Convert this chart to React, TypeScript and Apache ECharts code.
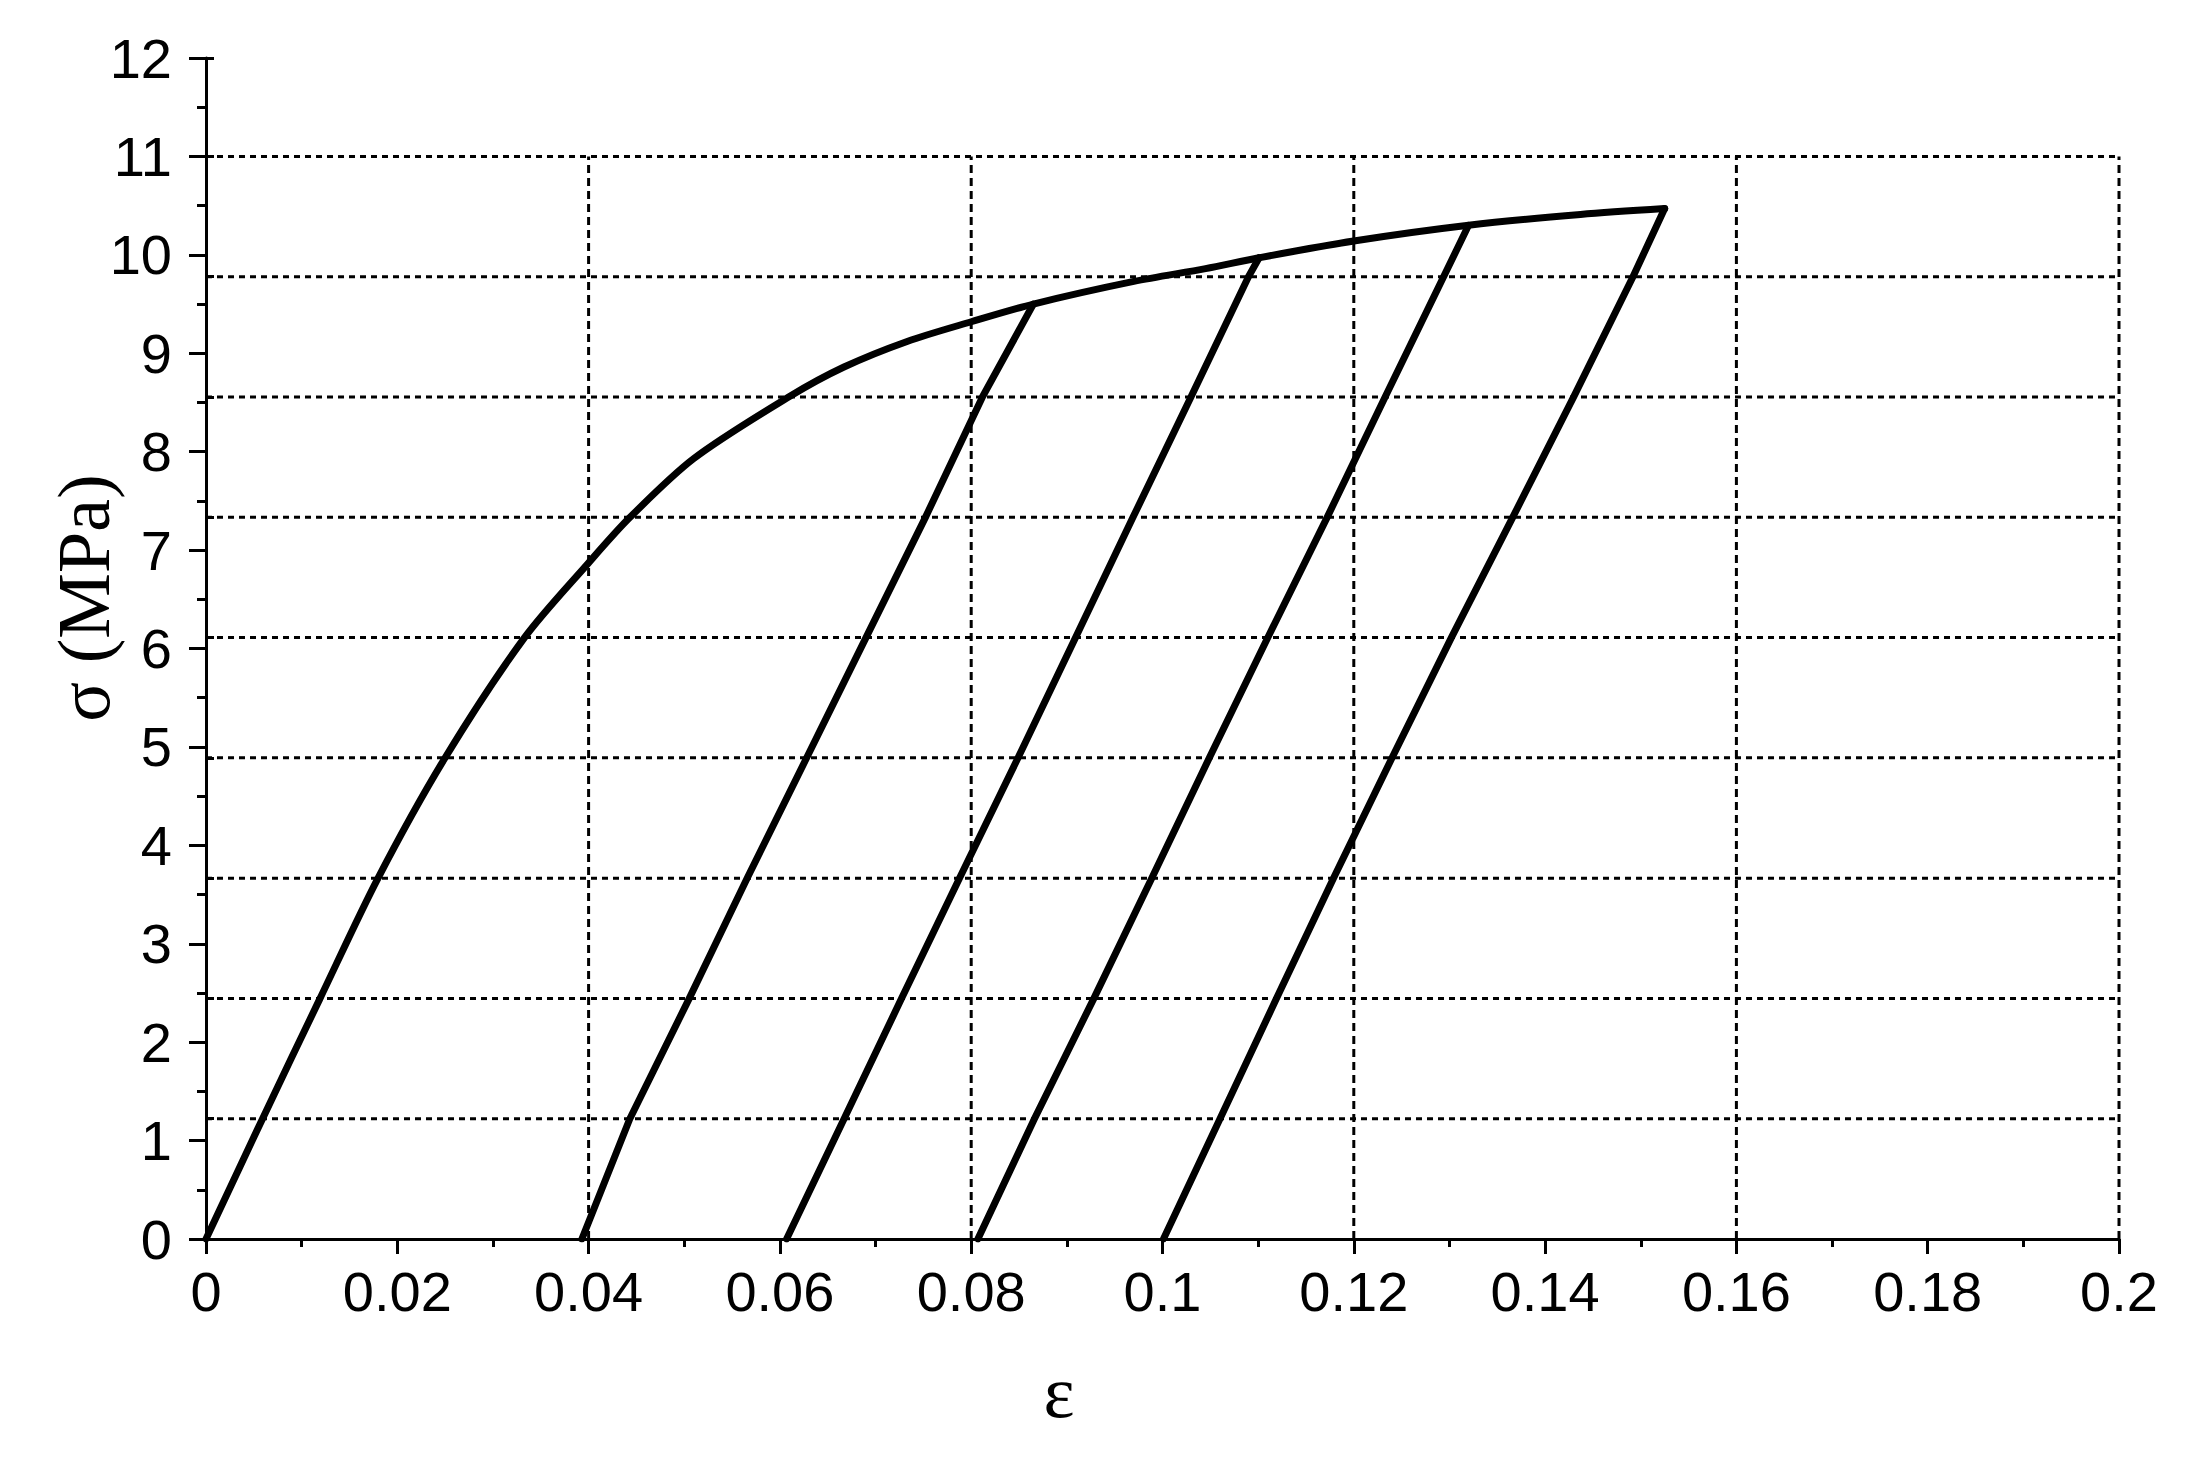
import React, { useEffect, useRef } from "react";
import * as echarts from "echarts";

// Loading curve (strain ε, stress σ in MPa)
const loadingCurve: [number, number][] = [
  [0, 0], [0.0059, 1.22], [0.0119, 2.44], [0.0180, 3.67], [0.0250, 4.89],
  [0.0333, 6.11], [0.0400, 6.87], [0.0443, 7.33], [0.0510, 7.93], [0.0610, 8.56],
  [0.0667, 8.86], [0.0733, 9.12], [0.0800, 9.32], [0.0865, 9.50], [0.0970, 9.73],
  [0.1045, 9.86], [0.1101, 9.97], [0.1200, 10.14], [0.1320, 10.30], [0.1437, 10.41],
  [0.1525, 10.47],
];

// Unloading / reloading lines
const cycle1: [number, number][] = [
  [0.0393, 0], [0.0443, 1.22], [0.0505, 2.44], [0.0566, 3.67], [0.0628, 4.89],
  [0.0690, 6.11], [0.0752, 7.33], [0.0812, 8.56], [0.0865, 9.50],
];
const cycle2: [number, number][] = [
  [0.0607, 0], [0.0667, 1.22], [0.0727, 2.44], [0.0788, 3.67], [0.0849, 4.89],
  [0.0909, 6.11], [0.0969, 7.33], [0.1030, 8.56], [0.1090, 9.78], [0.1101, 9.97],
];
const cycle3: [number, number][] = [
  [0.0807, 0], [0.0866, 1.22], [0.0928, 2.44], [0.0989, 3.67], [0.1049, 4.89],
  [0.1110, 6.11], [0.1172, 7.33], [0.1233, 8.56], [0.1294, 9.78], [0.1320, 10.30],
];
const cycle4: [number, number][] = [
  [0.1001, 0], [0.1060, 1.22], [0.1119, 2.44], [0.1179, 3.67], [0.1240, 4.89],
  [0.1302, 6.11], [0.1366, 7.33], [0.1430, 8.56], [0.1492, 9.78], [0.1525, 10.47],
];

// Dotted grid positions
const gridYValues = [1.2222, 2.4444, 3.6667, 4.8889, 6.1111, 7.3333, 8.5556, 9.7778, 11];
const gridXValues = [0.04, 0.08, 0.12, 0.16, 0.2];
const gridTop = 11;
const xMax = 0.2;

const cycles = [cycle1, cycle2, cycle3, cycle4];

export default function App() {
  const ref = useRef<HTMLDivElement>(null);
  useEffect(() => {
    document.body.style.margin = "0";
    document.body.style.overflow = "hidden";
    const chart = echarts.init(ref.current!, null, { renderer: "svg" });

    const gridSeries: any[] = [];
    gridYValues.forEach((gy) => {
      gridSeries.push({
        type: "line",
        data: [[0, gy], [xMax, gy]],
        symbol: "none",
        silent: true,
        z: 1,
        lineStyle: { color: "#000", width: 3, type: [6, 5] },
      });
    });
    gridXValues.forEach((gx) => {
      gridSeries.push({
        type: "line",
        data: [[gx, 0], [gx, gridTop]],
        symbol: "none",
        silent: true,
        z: 1,
        lineStyle: { color: "#000", width: 3, type: [8, 5] },
      });
    });

    const lineStyle = { color: "#000", width: 7, cap: "round", join: "round" };
    const curveSeries: any[] = [
      {
        type: "line",
        data: loadingCurve,
        symbol: "none",
        smooth: 0.3,
        z: 3,
        lineStyle,
      },
      ...cycles.map((c) => ({
        type: "line",
        data: c,
        symbol: "none",
        z: 3,
        lineStyle,
      })),
    ];

    const labelStyle = {
      color: "#000",
      fontSize: 56,
      fontFamily: "'Liberation Sans', Arial, sans-serif",
    };

    chart.setOption({
      animation: false,
      backgroundColor: "#fff",
      grid: { left: 206, right: 78, top: 58, bottom: 223, containLabel: false },
      xAxis: {
        type: "value",
        min: 0,
        max: 0.2,
        interval: 0.02,
        axisLine: { onZero: false, lineStyle: { color: "#000", width: 3 } },
        axisTick: { show: true, length: 15, lineStyle: { color: "#000", width: 3 } },
        minorTick: { show: true, splitNumber: 2, length: 8, lineStyle: { color: "#000", width: 3 } },
        axisLabel: { ...labelStyle, margin: 24 },
        splitLine: { show: false },
      },
      yAxis: [
        {
          type: "value",
          min: 0,
          max: 12,
          interval: 1,
          axisLine: { onZero: false, lineStyle: { color: "#000", width: 3 } },
          axisTick: { show: true, length: 17, lineStyle: { color: "#000", width: 3 } },
          minorTick: { show: true, splitNumber: 2, length: 9, lineStyle: { color: "#000", width: 3 } },
          axisLabel: { ...labelStyle, margin: 34 },
          splitLine: { show: false },
        },
        {
          type: "value",
          position: "left",
          min: 0,
          max: 12,
          interval: 11 / 9,
          axisLine: { show: false },
          axisTick: { show: true, inside: true, length: 8, lineStyle: { color: "#000", width: 3 } },
          axisLabel: { show: false },
          splitLine: { show: false },
        },
      ],
      graphic: [
        {
          type: "text",
          x: 84,
          y: 598,
          rotation: Math.PI / 2,
          style: {
            text: "σ (MPa)",
            fontSize: 74,
            fontFamily: "'Liberation Serif', 'Times New Roman', serif",
            fill: "#000",
            align: "center",
            verticalAlign: "middle",
          },
        },
        {
          type: "text",
          x: 1059,
          y: 1392,
          style: {
            text: "ε",
            fontSize: 74,
            fontFamily: "'Liberation Serif', 'Times New Roman', serif",
            fill: "#000",
            align: "center",
            verticalAlign: "middle",
          },
        },
      ],
      series: [...gridSeries, ...curveSeries],
    });
    return () => chart.dispose();
  }, []);
  return <div ref={ref} style={{ width: 2197, height: 1462 }} />;
}
